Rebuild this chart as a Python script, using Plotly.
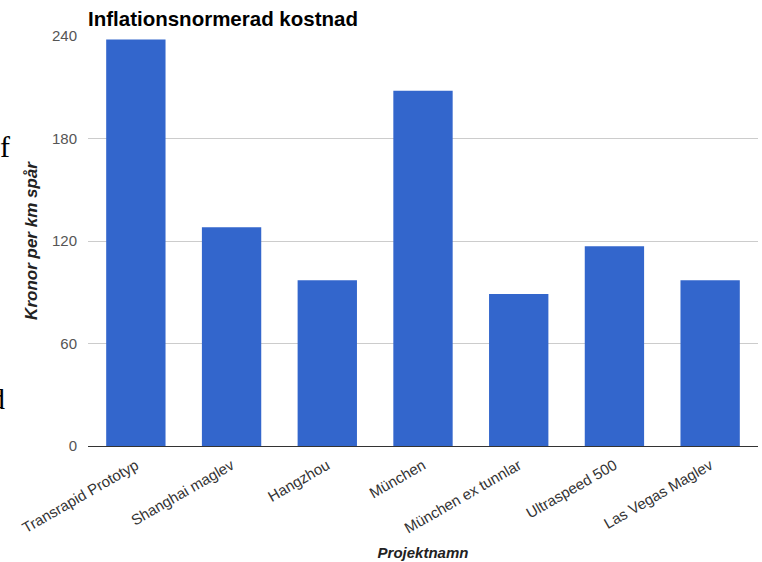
import plotly.graph_objects as go

categories = ["Transrapid Prototyp", "Shanghai maglev", "Hangzhou", "München",
              "München ex tunnlar", "Ultraspeed 500", "Las Vegas Maglev"]
values = [238, 128, 97, 208, 89, 117, 97]
y_ticks = [0, 60, 120, 180, 240]

fig = go.Figure(go.Bar(x=categories, y=values, marker_color="#3366cc",
                       marker_line_width=0, width=0.62))

fig.update_layout(
    width=762, height=562,
    margin=dict(l=88, r=4, t=36, b=116),
    plot_bgcolor="white", paper_bgcolor="white",
    font=dict(family="Liberation Sans, Arial", size=15, color="#444"),
    title=dict(text="<b>Inflationsnormerad kostnad</b>", x=88/762, xanchor="left",
               y=1 - 19/562, yanchor="middle",
               font=dict(size=20.5, color="black", family="Liberation Sans, Arial")),
    showlegend=False,
)
fig.update_yaxes(range=[0, 240], tickvals=y_ticks, showgrid=True, gridcolor="#cccccc",
                 gridwidth=1, zeroline=True, zerolinecolor="#333333", zerolinewidth=1,
                 ticks="", ticklabelstandoff=10, tickfont=dict(color="#555", size=15),
                 title=dict(text="<b><i>Kronor per km spår</i></b>", standoff=10,
                            font=dict(size=17, color="#222")))
fig.update_xaxes(tickangle=-30, ticks="", showline=False, ticklabelstandoff=7,
                 tickfont=dict(color="#333", size=15),
                 title=dict(text="<b><i>Projektnamn</i></b>", standoff=12,
                            font=dict(size=15, color="#222")))

for txt, ypix, xr in [("f", 146, 12), ("d", 398, 7)]:
    fig.add_annotation(text=txt, xref="paper", yref="paper",
                       x=(xr - 88) / 670, y=1 - (ypix - 36) / 410,
                       xanchor="right", yanchor="middle", showarrow=False,
                       font=dict(family="Liberation Serif, DejaVu Serif", size=30, color="black"))

fig.write_html("out.html", config={"displayModeBar": False},
               post_script="document.body.style.margin='0';")
